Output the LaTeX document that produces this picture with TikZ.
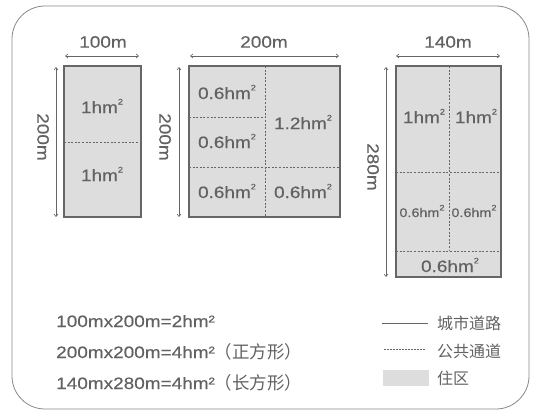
\documentclass[tikz,border=0pt]{standalone}
\usepackage{fontspec}
\setmainfont{Liberation Sans}[FakeStretch=1.15,FakeBold=0.4]
\newfontfamily\cjk{Noto Sans CJK SC}
\usetikzlibrary{arrows.meta}
\definecolor{txt}{HTML}{626262}
\definecolor{edge}{HTML}{666666}
\definecolor{zone}{HTML}{DDDDDD}
\definecolor{frame}{HTML}{888888}
\newcommand\sqm{\raisebox{0.52em}{\fontsize{8}{8}\selectfont 2}}
\begin{document}
\begin{tikzpicture}[x=1pt,y=-1pt,
  lbl/.style={text=txt,inner sep=0pt,font=\fontsize{16.5}{17}\selectfont},
  small/.style={text=txt,inner sep=0pt,font=\fontsize{12.5}{13}\selectfont},
  cjklbl/.style={text=txt,inner sep=0pt,anchor=west,font=\cjk\fontsize{16}{17}\selectfont},
  block/.style={draw=edge,fill=zone,line width=1.2pt},
  path/.style={draw=edge,line width=0.8pt,dash pattern=on 2pt off 1.6pt},
  dim/.style={draw=edge,line width=0.6pt,{Straight Barb[length=2.5pt,width=4pt]}-{Straight Barb[length=2.5pt,width=4pt]}}
]
\useasboundingbox (0,0) rectangle (556,415);
\draw[frame,line width=0.8pt,rounded corners=33pt] (12,6) rectangle (529,409);

% block 1
\draw[block] (64,66) rectangle (141,217);
\coordinate (b1l) at (64,142); \coordinate (b1r) at (141,142);
\draw[path] (b1l) -- (b1r);
\node[lbl] (c11) at (102,106) {1hm\sqm};
\node[lbl] (c12) at (102,174) {1hm\sqm};
\coordinate (h1a) at (65,56); \coordinate (h1b) at (139,56);
\draw[dim] (h1a) -- (h1b);
\node[lbl] (w1) at (103,42) {100m};
\coordinate (v1a) at (56,67); \coordinate (v1b) at (56,217);
\draw[dim] (v1a) -- (v1b);
\node[lbl,rotate=-90] (hh1) at (43,137) {200m};

% block 2
\draw[block] (189,66) rectangle (340,217);
\coordinate (b2t) at (265,66); \coordinate (b2b) at (265,217);
\coordinate (b2a) at (189,117); \coordinate (b2am) at (265,117);
\coordinate (b2c) at (189,167); \coordinate (b2cr) at (340,167);
\draw[path] (b2t) -- (b2b);
\draw[path] (b2a) -- (b2am);
\draw[path] (b2c) -- (b2cr);
\node[lbl] (c21) at (227,92) {0.6hm\sqm};
\node[lbl] (c22) at (227,141) {0.6hm\sqm};
\node[lbl] (c23) at (303,122) {1.2hm\sqm};
\node[lbl] (c24) at (227,191) {0.6hm\sqm};
\node[lbl] (c25) at (303,191) {0.6hm\sqm};
\coordinate (h2a) at (190,56); \coordinate (h2b) at (339,56);
\draw[dim] (h2a) -- (h2b);
\node[lbl] (w2) at (264,42) {200m};
\coordinate (v2a) at (179,67); \coordinate (v2b) at (179,217);
\draw[dim] (v2a) -- (v2b);
\node[lbl,rotate=-90] (hh2) at (165,137) {200m};

% block 3
\draw[block] (396,66) rectangle (501,277);
\coordinate (b3t) at (449,66); \coordinate (b3b) at (449,251);
\coordinate (b3a) at (396,172); \coordinate (b3ar) at (501,172);
\coordinate (b3c) at (396,251); \coordinate (b3cr) at (501,251);
\draw[path] (b3t) -- (b3b);
\draw[path] (b3a) -- (b3ar);
\draw[path] (b3c) -- (b3cr);
\node[lbl] (c31) at (424,116) {1hm\sqm};
\node[lbl] (c32) at (476,116) {1hm\sqm};
\node[small] (c33) at (422,211) {0.6hm\sqm};
\node[small] (c34) at (474,211) {0.6hm\sqm};
\node[lbl] (c35) at (450,265) {0.6hm\sqm};
\coordinate (h3a) at (396,56); \coordinate (h3b) at (500,56);
\draw[dim] (h3a) -- (h3b);
\node[lbl] (w3) at (448,42) {140m};
\coordinate (v3a) at (386,67); \coordinate (v3b) at (386,277);
\draw[dim] (v3a) -- (v3b);
\node[lbl,rotate=-90] (hh3) at (373,167) {280m};

% formulas
\node[lbl,anchor=base west] (f1) at (56,327) {100mx200m=2hm²};
\node[lbl,anchor=base west] (f2) at (56,358) {200mx200m=4hm²{\cjk\fontsize{17.5}{17}\selectfont （正方形）}};
\node[lbl,anchor=base west] (f3) at (56,389) {140mx280m=4hm²{\cjk\fontsize{17.5}{17}\selectfont （长方形）}};

% legend
\coordinate (l1a) at (382,323); \coordinate (l1b) at (428,323);
\draw[draw=edge,line width=0.8pt] (l1a) -- (l1b);
\coordinate (l2a) at (384,349); \coordinate (l2b) at (425,349);
\draw[draw=edge,line width=0.6pt,dash pattern=on 1.5pt off 1.5pt] (l2a) -- (l2b);
\fill[zone] (383,370) rectangle (429,386);
\node[cjklbl] (t1) at (437,323) {城市道路};
\node[cjklbl] (t2) at (437,351) {公共通道};
\node[cjklbl] (t3) at (437,378) {住区};
\end{tikzpicture}
\end{document}
